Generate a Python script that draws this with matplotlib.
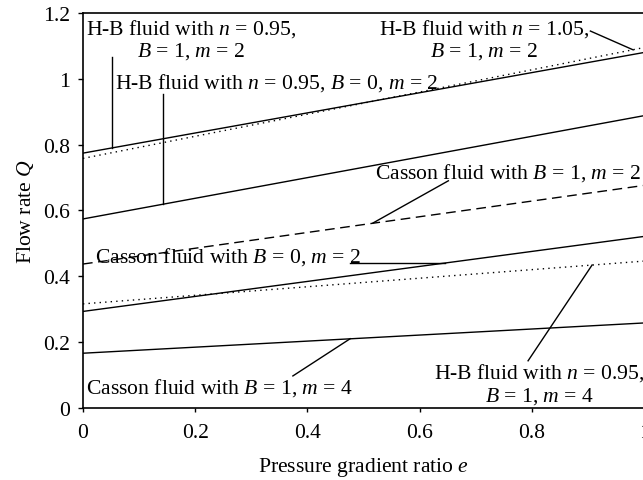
import matplotlib
matplotlib.use("Agg")
import matplotlib.pyplot as plt
from matplotlib.ticker import FormatStrFormatter

plt.rcParams["font.family"] = ["Liberation Serif", "DejaVu Serif"]
plt.rcParams["mathtext.fontset"] = "custom"
plt.rcParams["mathtext.rm"] = "Liberation Serif"
plt.rcParams["mathtext.it"] = "Liberation Serif:italic"

# pressure gradient ratio e at 0, 0.5, 1
e_vals = [0.0, 0.5, 1.0]
hb095_b1_m2 = [0.774, 0.927, 1.080]
hb105_b1_m2 = [0.758, 0.926, 1.095]
hb095_b0_m2 = [0.574, 0.731, 0.888]
casson_b1_m2 = [0.437, 0.557, 0.676]
casson_b0_m2 = [0.293, 0.407, 0.521]
hb095_b1_m4 = [0.316, 0.381, 0.446]
casson_b1_m4 = [0.166, 0.212, 0.258]

fs = 15.6
lw = 1.0

fig = plt.figure(figsize=(6.43, 4.81), dpi=100)
ax = fig.add_axes([0.129, 0.150, 0.873, 0.821])

ax.plot(e_vals, hb095_b1_m2, color="black", lw=lw)
ax.plot(e_vals, hb105_b1_m2, color="black", lw=lw, linestyle=(0, (1, 3)))
ax.plot(e_vals, hb095_b0_m2, color="black", lw=lw)
ax.plot(e_vals, casson_b1_m2, color="black", lw=lw, linestyle=(0, (7, 4)))
ax.plot(e_vals, casson_b0_m2, color="black", lw=lw)
ax.plot(e_vals, hb095_b1_m4, color="black", lw=lw, linestyle=(0, (1, 3)))
ax.plot(e_vals, casson_b1_m4, color="black", lw=lw)

# labels and leader lines
ax.text(0.193, 1.121, "H-B fluid with $n$ = 0.95,\n$B$ = 1, $m$ = 2",
        ha="center", va="center", multialignment="center", fontsize=fs, linespacing=1.1)
ax.plot([0.0517, 0.0517], [1.066, 0.790], color="black", lw=lw)

ax.text(0.057, 0.990, "H-B fluid with $n$ = 0.95, $B$ = 0, $m$ = 2",
        ha="left", va="center", fontsize=fs)
ax.plot([0.1426, 0.1426], [0.954, 0.619], color="black", lw=lw)

ax.text(0.715, 1.121, "H-B fluid with $n$ = 1.05,\n$B$ = 1, $m$ = 2",
        ha="center", va="center", multialignment="center", fontsize=fs, linespacing=1.1)
ax.plot([0.904, 0.980], [1.145, 1.088], color="black", lw=lw)

ax.text(0.520, 0.717, "Casson fluid with $B$ = 1, $m$ = 2",
        ha="left", va="center", fontsize=fs)
ax.plot([0.651, 0.517], [0.690, 0.562], color="black", lw=lw)

ax.text(0.0214, 0.462, "Casson fluid with $B$ = 0, $m$ = 2",
        ha="left", va="center", fontsize=fs)
ax.plot([0.476, 0.645], [0.440, 0.440], color="black", lw=lw)

ax.text(0.813, 0.0744, "H-B fluid with $n$ = 0.95,\n$B$ = 1, $m$ = 4",
        ha="center", va="center", multialignment="center", fontsize=fs, linespacing=1.1)
ax.plot([0.793, 0.907], [0.143, 0.434], color="black", lw=lw)

ax.text(0.0053, 0.064, "Casson fluid with $B$ = 1, $m$ = 4",
        ha="left", va="center", fontsize=fs)
ax.plot([0.374, 0.476], [0.097, 0.210], color="black", lw=lw)

ax.set_xlim(0, 1)
ax.set_ylim(0, 1.2)
ax.set_xticks([0, 0.2, 0.4, 0.6, 0.8, 1.0])
ax.set_yticks([0, 0.2, 0.4, 0.6, 0.8, 1.0, 1.2])
ax.xaxis.set_major_formatter(FormatStrFormatter("%g"))
ax.yaxis.set_major_formatter(FormatStrFormatter("%g"))
ax.tick_params(axis="x", direction="out", length=3, width=1, labelsize=fs, pad=8)
ax.tick_params(axis="y", direction="out", length=3.5, width=1, labelsize=fs, pad=6)
for sp in ax.spines.values():
    sp.set_linewidth(1.2)

ax.set_xlabel("Pressure gradient ratio $e$", fontsize=fs, labelpad=9)
ax.set_ylabel("Flow rate $Q$", fontsize=fs, labelpad=5)

fig.savefig("out.png", dpi=100)
